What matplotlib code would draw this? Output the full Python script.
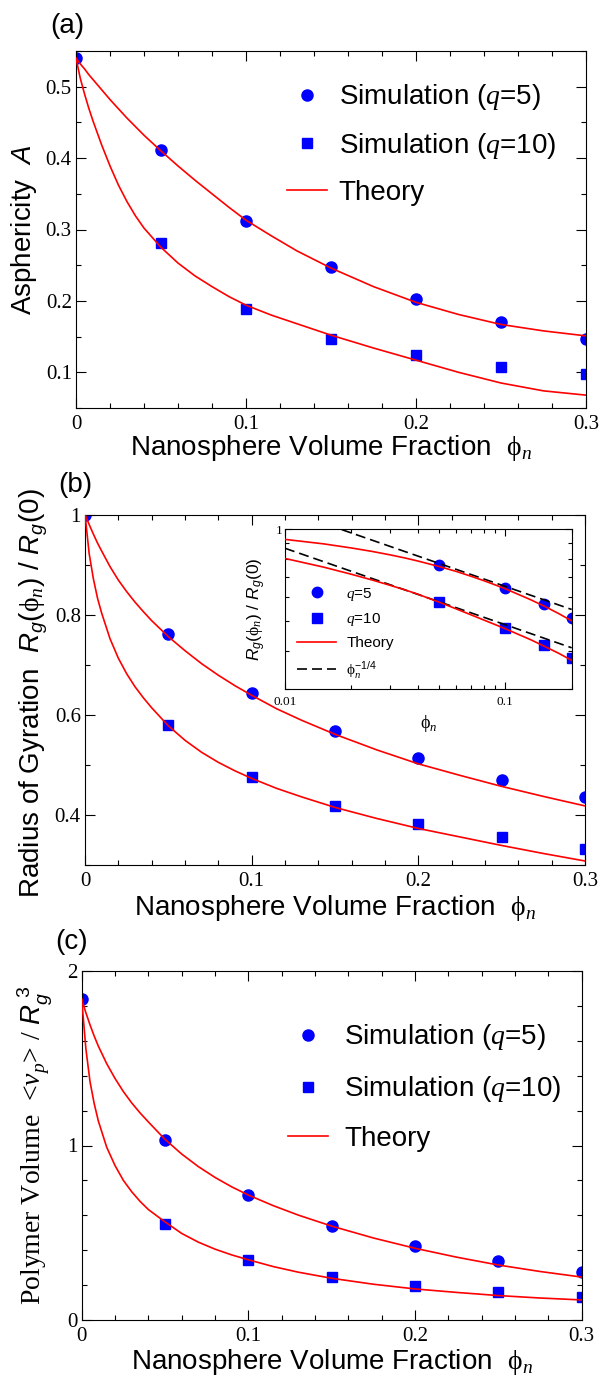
import numpy as np
import matplotlib.pyplot as plt
from matplotlib.ticker import MultipleLocator, FuncFormatter, NullFormatter

plt.rcParams['font.family'] = 'Liberation Serif'
plt.rcParams['mathtext.fontset'] = 'custom'
plt.rcParams['mathtext.rm'] = 'Liberation Sans'
plt.rcParams['mathtext.it'] = 'Liberation Sans:italic'
plt.rcParams['mathtext.sf'] = 'Liberation Serif'
plt.rcParams['mathtext.cal'] = 'Liberation Serif:italic'

# simulation points
phi_sim = [0, 0.05, 0.1, 0.15, 0.2, 0.25, 0.3]
asph_q5 = [0.540, 0.412, 0.312, 0.247, 0.202, 0.170, 0.146]
asph_q10 = [0.281, 0.188, 0.147, 0.124, 0.108, 0.097]
rg_q5 = [1.0, 0.762, 0.643, 0.568, 0.513, 0.470, 0.436]
rg_q10 = [0.579, 0.476, 0.418, 0.381, 0.355, 0.332]
vol_q5 = [1.838, 1.032, 0.715, 0.539, 0.424, 0.340, 0.277]
vol_q10 = [0.550, 0.344, 0.245, 0.192, 0.159, 0.130]

# theory curves
phi_th = [0, 0.0025, 0.005, 0.0075, 0.01, 0.015, 0.02, 0.025, 0.03, 0.035, 0.04, 0.05,
          0.06, 0.07, 0.08, 0.09, 0.1, 0.115, 0.13, 0.15, 0.175, 0.2, 0.225, 0.25, 0.275, 0.3]
asph_th_q5 = [0.540, 0.532, 0.525, 0.517, 0.510, 0.496, 0.482, 0.469, 0.456, 0.444, 0.432, 0.410,
              0.389, 0.369, 0.350, 0.331, 0.313, 0.291, 0.270, 0.246, 0.220, 0.198, 0.181, 0.167, 0.158, 0.151]
asph_th_q10 = [0.540, 0.512, 0.490, 0.470, 0.452, 0.419, 0.389, 0.362, 0.339, 0.319, 0.302, 0.275,
               0.253, 0.235, 0.220, 0.206, 0.194, 0.180, 0.168, 0.152, 0.134, 0.117, 0.100, 0.085, 0.074, 0.068]
rg_th_q5 = [1.0, 0.980, 0.961, 0.943, 0.927, 0.896, 0.869, 0.846, 0.825, 0.806, 0.788, 0.756,
            0.728, 0.702, 0.679, 0.658, 0.639, 0.612, 0.589, 0.561, 0.530, 0.502, 0.479, 0.457, 0.437, 0.418]
rg_th_q10 = [1.0, 0.922, 0.872, 0.833, 0.803, 0.752, 0.713, 0.682, 0.656, 0.634, 0.614, 0.578,
             0.549, 0.525, 0.505, 0.488, 0.473, 0.453, 0.436, 0.415, 0.393, 0.373, 0.356, 0.339, 0.323, 0.308]
vol_th_q5 = [1.838, 1.761, 1.691, 1.627, 1.569, 1.469, 1.384, 1.309, 1.244, 1.187, 1.135, 1.035,
             0.951, 0.879, 0.817, 0.763, 0.716, 0.655, 0.601, 0.538, 0.470, 0.411, 0.360, 0.315, 0.278, 0.246]
vol_th_q10 = [1.838, 1.555, 1.365, 1.240, 1.140, 0.990, 0.885, 0.800, 0.735, 0.680, 0.633, 0.562,
              0.496, 0.446, 0.406, 0.373, 0.345, 0.306, 0.274, 0.239, 0.205, 0.178, 0.158, 0.140, 0.126, 0.115]

# phi^(-1/4) guide lines in the inset (end points)
pow_phi = [0.01, 0.2]
pow_q5 = [1.157, 0.547]
pow_q10 = [0.867, 0.410]

PHI = r'$\mathsf{\phi}_{\mathcal{n}}$'
SANS = 'Liberation Sans'
BLUE = '#0000ff'
RED = '#ff0000'

fig = plt.figure(figsize=(6.02, 13.76), dpi=100)
W, H = 602.0, 1376.0


def box(left, top, right, bottom):
    return [left / W, 1 - bottom / H, (right - left) / W, (bottom - top) / H]


def style(ax, ylo, yhi, ymaj, ymin):
    ax.set_xlim(0, 0.3)
    ax.set_ylim(ylo, yhi)
    ax.xaxis.set_major_locator(MultipleLocator(0.1))
    ax.xaxis.set_minor_locator(MultipleLocator(0.02))
    ax.yaxis.set_major_locator(MultipleLocator(ymaj))
    ax.yaxis.set_minor_locator(MultipleLocator(ymin))
    fmt = FuncFormatter(lambda v, _: '%g' % round(v, 3))
    ax.xaxis.set_major_formatter(fmt)
    ax.yaxis.set_major_formatter(fmt)
    ax.tick_params(which='both', direction='in', top=True, right=True, labelsize=15)
    ax.tick_params(which='major', length=7, width=0.8)
    ax.tick_params(which='minor', length=3.5, width=0.8)
    ax.tick_params(axis='x', pad=5)
    ax.tick_params(axis='y', pad=3)
    ax.set_xlabel('Nanosphere Volume Fraction  ' + PHI, fontsize=20, family=SANS)


def draw(ax, y5, y10, t5, t10):
    ax.plot(phi_sim, y5, 'o', color=BLUE, ms=8, mec=BLUE, zorder=2,
            label=r'Simulation ($\mathcal{q}$=5)')
    ax.plot(phi_sim[1:], y10, 's', color=BLUE, ms=6.8, mec=BLUE, zorder=2,
            label=r'Simulation ($\mathcal{q}$=10)')
    ax.plot(phi_th, t5, '-', color=RED, lw=1.2, zorder=3, label='Theory')
    ax.plot(phi_th, t10, '-', color=RED, lw=1.2, zorder=3)


# (a) asphericity
axa = fig.add_axes(box(76, 51, 586, 408))
draw(axa, asph_q5, asph_q10, asph_th_q5, asph_th_q10)
style(axa, 0.05, 0.55, 0.1, 0.05)
axa.set_ylabel(r'Asphericity  $\mathit{A}$', fontsize=20, family=SANS)
axa.yaxis.set_label_coords(-0.072, 0.5)
axa.xaxis.set_label_coords(0.5, -0.07)
axa.legend(loc='upper left', bbox_to_anchor=(0.414, 0.912), frameon=False, numpoints=1,
           borderpad=0, borderaxespad=0, handlelength=1.45, handletextpad=0.41,
           labelspacing=0.67, prop={'family': SANS, 'size': 20})
fig.text(50 / W, 1 - 26 / H, '(a)', fontsize=20, family=SANS, va='center')

# (b) radius of gyration
axb = fig.add_axes(box(85, 514.5, 585, 865))
draw(axb, rg_q5, rg_q10, rg_th_q5, rg_th_q10)
style(axb, 0.3, 1.0, 0.2, 0.1)
axb.set_ylabel(r'Radius of Gyration  $R_g(\mathsf{\phi}_{\mathcal{n}})\ /\ R_g(0)$',
               fontsize=20, family=SANS)
axb.yaxis.set_label_coords(-0.07, 0.49)
axb.xaxis.set_label_coords(0.5, -0.08)
fig.text(58 / W, 1 - 485 / H, '(b)', fontsize=20, family=SANS, va='center')

# inset of (b), log-log
axi = fig.add_axes(box(285, 529.3, 571.7, 689.3))
axi.set_xscale('log')
axi.set_yscale('log')
axi.plot(phi_sim[1:5], rg_q5[1:5], 'o', color=BLUE, ms=7.5, zorder=2, label=r'$\mathcal{q}$=5')
axi.plot(phi_sim[1:5], rg_q10[0:4], 's', color=BLUE, ms=6.5, zorder=2, label=r'$\mathcal{q}$=10')
axi.plot(phi_th[4:22], rg_th_q5[4:22], '-', color=RED, lw=1.2, zorder=3, label='Theory')
axi.plot(phi_th[4:22], rg_th_q10[4:22], '-', color=RED, lw=1.2, zorder=3)
axi.plot(pow_phi, pow_q5, color='black', lw=1.2, ls=(0, (6, 3)), zorder=2,
         label=r'$\mathsf{\phi}_{\mathcal{n}}^{-1/4}$')
axi.plot(pow_phi, pow_q10, color='black', lw=1.2, ls=(0, (6, 3)), zorder=2)
axi.set_xlim(0.01, 0.2)
axi.set_ylim(0.3, 1.0)
axi.set_xticks([0.01, 0.1])
axi.set_xticklabels(['0.01', '0.1'])
axi.set_xticks([0.02, 0.03, 0.04, 0.05, 0.06, 0.07, 0.08, 0.09, 0.2], minor=True)
axi.xaxis.set_minor_formatter(NullFormatter())
axi.set_yticks([1.0])
axi.set_yticklabels(['1'])
axi.set_yticks([0.3, 0.4, 0.5, 0.6, 0.7, 0.8, 0.9], minor=True)
axi.yaxis.set_minor_formatter(NullFormatter())
axi.tick_params(which='both', direction='in', top=True, right=True, labelsize=9.5, width=0.8)
axi.tick_params(which='major', length=5)
axi.tick_params(which='minor', length=3)
axi.tick_params(axis='x', pad=5)
axi.tick_params(axis='y', pad=2)
axi.set_xlabel(PHI, fontsize=13, family=SANS)
axi.xaxis.set_label_coords(0.5, -0.15)
axi.set_ylabel(r'$R_g(\mathsf{\phi}_{\mathcal{n}})\ /\ R_g(0)$', fontsize=12.5, family=SANS)
axi.yaxis.set_label_coords(-0.06, 0.5)
axi.legend(loc='upper left', bbox_to_anchor=(0.041, 0.648), frameon=False, numpoints=1,
           borderpad=0, borderaxespad=0, handlelength=2.6, handletextpad=0.65,
           labelspacing=0.55, prop={'family': SANS, 'size': 11})

# (c) polymer volume
axc = fig.add_axes(box(81.7, 971, 581.7, 1320))
draw(axc, vol_q5, vol_q10, vol_th_q5, vol_th_q10)
style(axc, 0, 2, 1, 0.2)
axc.set_ylabel(r'Polymer Volume  <$\mathcal{\nu}_{\mathcal{p}}$> / $R_g^{\ 3}$', fontsize=20)
axc.yaxis.set_label_coords(-0.053, 0.5)
axc.xaxis.set_label_coords(0.5, -0.0765)
axc.legend(loc='upper left', bbox_to_anchor=(0.4126, 0.853), frameon=False, numpoints=1,
           borderpad=0, borderaxespad=0, handlelength=1.45, handletextpad=0.58,
           labelspacing=0.79, prop={'family': SANS, 'size': 20})
fig.text(55 / W, 1 - 942 / H, '(c)', fontsize=20, family=SANS, va='center')

fig.savefig('out.png', dpi=100)
